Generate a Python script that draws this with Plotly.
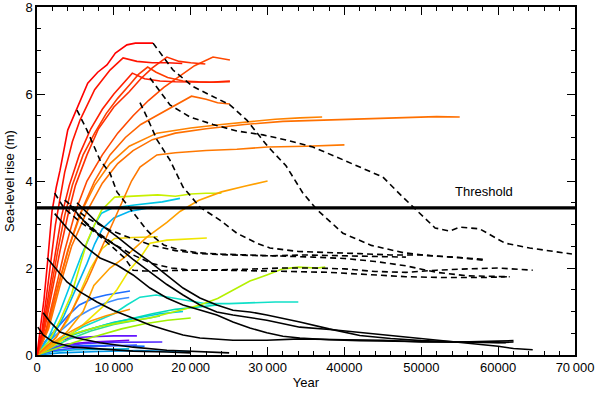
import plotly.graph_objects as go

# ---------------- data (years, metres) ----------------
THRESHOLD = 3.38
X_TICKS = [0, 10000, 20000, 30000, 40000, 50000, 60000, 70000]
X_TICKTEXT = ["0", "10\u2009000", "20\u2009000", "30\u2009000", "40000", "50000", "60000", "70\u2009000"]
Y_TICKS = [0, 2, 4, 6, 8]

# coloured runs (bottom group first, reds last)
P7_x = [0, 1000, 3000, 6000, 9000]
P7_y = [0, 0.10, 0.18, 0.20, 0.20]
P5_x = [0, 3000, 8000, 13000, 18000, 20000]
P5_y = [0, 0.05, 0.08, 0.10, 0.08, 0.08]
P6_x = [0, 2000, 5000, 9000, 12000]
P6_y = [0, 0.08, 0.12, 0.13, 0.14]
P8_x = [0, 1500, 4000, 7000, 10000, 14000]
P8_y = [0, 0.12, 0.20, 0.22, 0.22, 0.20]
P4_x = [0, 2000, 5000, 8000, 11000, 13000]
P4_y = [0, 0.10, 0.16, 0.20, 0.22, 0.23]
P3_x = [0, 1500, 4000, 7000, 10000, 12000]
P3_y = [0, 0.15, 0.25, 0.30, 0.32, 0.34]
P2_x = [0, 1000, 3000, 6000, 9000, 12000, 14500, 16300]
P2_y = [0, 0.12, 0.20, 0.26, 0.29, 0.30, 0.30, 0.30]
P1_x = [0, 800, 2000, 4300, 7000, 10000, 13000]
P1_y = [0, 0.15, 0.28, 0.39, 0.42, 0.44, 0.44]
B2_x = [0, 1200, 3000, 5000, 7000, 9000, 10500, 12000]
B2_y = [0, 0.25, 0.55, 0.85, 1.05, 1.20, 1.28, 1.32]
B1_x = [0, 1000, 2500, 4000, 5500, 7400, 9000, 10500, 12100]
B1_y = [0, 0.30, 0.60, 0.90, 1.15, 1.31, 1.38, 1.43, 1.47]
G4_x = [0, 2000, 4000, 7000, 10000, 13000, 16000, 19000]
G4_y = [0, 0.22, 0.42, 0.60, 0.75, 0.85, 0.95, 1.00]
G1_x = [0, 1500, 3500, 6000, 9000, 12000, 15000, 18000, 21000, 23500]
G1_y = [0, 0.20, 0.40, 0.55, 0.70, 0.82, 0.95, 1.05, 1.10, 1.15]
T1_x = [0, 2000, 4000, 6000, 8000, 10000, 11700, 13400, 15500, 18000, 20000, 22000, 25000, 28000, 31000, 34000]
T1_y = [0, 0.20, 0.45, 0.65, 0.80, 0.95, 1.15, 1.33, 1.38, 1.30, 1.25, 1.18, 1.18, 1.20, 1.22, 1.22]
C2_x = [0, 2000, 3500, 5000, 6500, 7500, 8500, 10000, 12000, 15000]
C2_y = [0, 0.40, 0.90, 1.50, 2.10, 2.55, 2.90, 3.15, 3.30, 3.40]
C1_x = [0, 1500, 3000, 4500, 5800, 6800, 7500, 8400, 9800, 12700, 16300, 18600]
C1_y = [0, 0.40, 1.00, 1.70, 2.30, 2.70, 3.00, 3.26, 3.38, 3.45, 3.52, 3.60]
G2_x = [0, 2000, 4000, 7000, 10000, 13000, 16000]
G2_y = [0, 0.18, 0.35, 0.55, 0.70, 0.80, 0.90]
G3_x = [0, 2500, 5000, 8000, 11000, 14000, 17000, 20000]
G3_y = [0, 0.15, 0.30, 0.45, 0.60, 0.72, 0.80, 0.85]
YG2_x = [0, 2000, 5000, 8000, 11000, 14700, 18000, 21200, 23500, 25500, 27700, 29900, 32000, 34000, 36400, 37500]
YG2_y = [0, 0.25, 0.50, 0.65, 0.75, 0.85, 1.00, 1.15, 1.30, 1.50, 1.70, 1.84, 1.98, 2.02, 2.00, 2.02]
Y1_x = [0, 1500, 3000, 4500, 5500, 6500, 7500, 8400, 10100, 12700, 15700, 18000, 20000, 22000, 24000]
Y1_y = [0, 0.30, 0.80, 1.40, 2.00, 2.60, 3.00, 3.33, 3.63, 3.65, 3.68, 3.65, 3.70, 3.72, 3.72]
Y3_x = [0, 3000, 6000, 8500, 10400, 12000, 13400, 14700, 16900, 19500, 22100]
Y3_y = [0, 0.30, 0.70, 1.10, 1.50, 1.95, 2.23, 2.57, 2.64, 2.67, 2.69]
Y2_x = [0, 2000, 4000, 5500, 7000, 8500, 10100, 12500, 15700]
Y2_y = [0, 0.30, 0.80, 1.40, 2.00, 2.45, 2.68, 2.70, 2.72]
O1_x = [0, 1500, 3000, 5000, 7000, 9000, 10500, 12100]
O1_y = [0, 0.20, 0.40, 0.60, 0.78, 0.90, 0.98, 1.05]
R11_x = [0, 2000, 4000, 6000, 7400, 9500, 11300, 14300, 16900, 18600, 21000, 24000, 27000, 30000]
R11_y = [0, 0.20, 0.55, 1.00, 1.60, 2.00, 2.23, 2.71, 3.05, 3.30, 3.55, 3.75, 3.88, 4.00]
R10_x = [0, 2500, 4500, 6500, 8500, 10000, 11200, 12300, 13400, 15600, 18000, 22000, 26000, 30000, 35000, 40000]
R10_y = [0, 0.40, 1.00, 1.70, 2.50, 3.10, 3.60, 4.00, 4.32, 4.60, 4.65, 4.70, 4.73, 4.78, 4.80, 4.83]
R9_x = [0, 1400, 2800, 4200, 5800, 7500, 9500, 12000, 15600, 20000, 24000, 27700, 31000, 34200, 37100]
R9_y = [0, 0.60, 1.60, 2.50, 3.30, 3.90, 4.40, 4.80, 5.10, 5.22, 5.30, 5.36, 5.42, 5.45, 5.47]
R8_x = [0, 1500, 3000, 4500, 6500, 8500, 10500, 12500, 15000, 18000, 22000, 27000, 32000, 37000, 42000, 47000, 52000, 55000]
R8_y = [0, 0.60, 1.60, 2.50, 3.30, 3.95, 4.40, 4.70, 4.95, 5.10, 5.20, 5.30, 5.37, 5.40, 5.42, 5.45, 5.48, 5.47]
R7_x = [0, 1300, 2600, 4000, 5500, 7500, 9500, 11500, 13500, 15500, 17500, 20100, 22000, 23500, 25100]
R7_y = [0, 0.60, 1.50, 2.40, 3.20, 4.00, 4.60, 5.00, 5.30, 5.50, 5.70, 5.95, 5.88, 5.80, 5.77]
R6_x = [0, 1200, 2400, 3600, 5000, 6500, 8500, 10500, 12500, 14500, 16500, 18500, 20500, 22900, 24000, 25100]
R6_y = [0, 0.60, 1.50, 2.40, 3.30, 4.00, 4.60, 5.10, 5.50, 5.85, 6.15, 6.40, 6.65, 6.85, 6.82, 6.78]
R5_x = [0, 900, 1800, 2700, 3600, 4600, 6000, 7500, 9000, 10500, 12000, 13200, 14400, 15500, 17000, 19000, 21000, 23000, 25100]
R5_y = [0, 0.60, 1.50, 2.40, 3.20, 3.90, 4.60, 5.10, 5.55, 5.90, 6.20, 6.45, 6.62, 6.50, 6.38, 6.30, 6.28, 6.27, 6.28]
R4_x = [0, 1000, 2000, 3000, 4000, 5000, 6500, 8000, 10000, 12000, 13500, 15000, 16900, 18500, 20000, 21900]
R4_y = [0, 0.60, 1.50, 2.40, 3.20, 3.90, 4.60, 5.20, 5.70, 6.05, 6.35, 6.60, 6.85, 6.75, 6.72, 6.69]
R3_x = [0, 800, 1600, 2400, 3200, 4200, 5500, 7000, 8500, 10000, 11200, 12400, 14000, 16000, 18000, 20000, 22500, 25100]
R3_y = [0, 0.60, 1.50, 2.40, 3.20, 3.90, 4.60, 5.20, 5.65, 6.00, 6.25, 6.48, 6.35, 6.30, 6.28, 6.28, 6.27, 6.30]
R2_x = [0, 600, 1200, 1800, 2400, 3000, 3600, 4600, 5600, 7500, 9500, 11200, 13000, 15000, 17000, 18900]
R2_y = [0, 0.50, 1.30, 2.20, 3.00, 3.60, 4.20, 4.90, 5.40, 6.10, 6.55, 6.83, 6.75, 6.72, 6.72, 6.70]
R1_x = [0, 400, 900, 1400, 1950, 2500, 3000, 4000, 5300, 6600, 7900, 9100, 10200, 11700, 12800, 15100]
R1_y = [0, 0.57, 1.26, 2.18, 3.30, 3.85, 4.25, 5.17, 5.70, 6.25, 6.50, 6.67, 6.94, 7.13, 7.17, 7.17]

# black solid runs
K1_x = [2300, 3900, 6000, 8200, 10400, 12500, 14700, 16900, 19000, 21200, 23400, 25500, 27700, 29900, 32000, 34200, 38000, 42000, 46000, 50000, 55000, 60000, 62000]
K1_y = [3.25, 2.92, 2.53, 2.23, 2.07, 1.84, 1.54, 1.31, 1.15, 1.03, 0.92, 0.76, 0.62, 0.51, 0.43, 0.39, 0.35, 0.33, 0.32, 0.30, 0.29, 0.28, 0.30]
K2_x = [4300, 6500, 8200, 10400, 12500, 14700, 16900, 19000, 21200, 23400, 25500, 29900, 34200, 38500, 43000, 47500, 52000, 56000, 60000, 62000, 64500]
K2_y = [3.45, 3.00, 2.75, 2.50, 2.20, 1.92, 1.62, 1.38, 1.15, 0.99, 0.92, 0.80, 0.64, 0.58, 0.50, 0.42, 0.34, 0.28, 0.20, 0.15, 0.12]
K3_x = [5200, 7500, 10400, 12500, 14700, 16900, 19000, 21200, 23400, 25500, 27700, 29900, 32000, 34200, 38000, 42000, 46000, 50000, 55000, 58000, 61000]
K3_y = [3.50, 3.10, 2.72, 2.42, 2.14, 1.84, 1.54, 1.31, 1.15, 1.03, 0.99, 0.92, 0.85, 0.76, 0.60, 0.45, 0.38, 0.33, 0.30, 0.30, 0.28]
K4_x = [1300, 2600, 3900, 5600, 7800, 9900, 12500, 14700, 16900, 19000, 21200, 25500, 29900, 34200, 40000, 45000, 50000, 55000, 60000, 62000]
K4_y = [2.23, 1.95, 1.68, 1.45, 1.22, 1.03, 0.85, 0.69, 0.57, 0.46, 0.39, 0.34, 0.34, 0.37, 0.35, 0.34, 0.30, 0.30, 0.32, 0.33]
K5_x = [800, 1700, 3000, 5200, 8200, 12500, 16900, 21200, 25000]
K5_y = [0.97, 0.76, 0.53, 0.39, 0.28, 0.18, 0.11, 0.07, 0.05]
K6_x = [100, 800, 2100, 4700, 8200, 12500, 16900, 20000]
K6_y = [0.64, 0.46, 0.30, 0.18, 0.14, 0.09, 0.07, 0.05]

# black dashed runs
D1_x = [15100, 17700, 20300, 25100, 27300, 30000, 32400, 34600, 36500, 39800, 43500, 47700, 51200, 55000, 58000]
D1_y = [7.17, 6.55, 6.17, 5.75, 5.40, 4.80, 4.35, 3.72, 3.33, 2.80, 2.52, 2.35, 2.28, 2.24, 2.18]
D2_x = [14700, 17300, 19900, 22900, 26000, 29400, 32500, 35900, 39000, 42000, 45000, 47600, 49800, 51800, 53700, 55000, 57600, 60900, 64100, 68000, 69600]
D2_y = [6.37, 5.75, 5.47, 5.30, 5.15, 5.06, 4.94, 4.78, 4.55, 4.32, 4.09, 3.63, 3.26, 2.92, 2.85, 2.94, 2.90, 2.57, 2.46, 2.37, 2.32]
D3_x = [13400, 14300, 15600, 17300, 19000, 21200, 23800, 26000, 28600, 30300, 34000, 38000, 42000, 46000, 50000, 54000, 58000]
D3_y = [5.80, 5.47, 4.95, 4.48, 3.86, 3.40, 3.10, 2.80, 2.57, 2.46, 2.38, 2.36, 2.33, 2.30, 2.30, 2.25, 2.20]
D4_x = [5200, 6500, 8200, 9500, 10400, 11700, 13000, 14300, 15200, 16500, 18500, 21000, 24000, 28000, 32000, 36000, 40000, 44000, 48000, 52000, 56000, 61500]
D4_y = [5.63, 5.17, 4.48, 4.18, 3.75, 3.45, 3.15, 2.87, 2.71, 2.53, 2.42, 2.35, 2.32, 2.30, 2.28, 2.25, 2.22, 2.15, 2.05, 1.90, 1.82, 1.80]
D5_x = [2300, 3500, 5600, 7500, 9500, 11400, 12500, 14000, 17000, 22000, 27000, 32000, 36000, 40000, 44000, 48000, 52000, 56000, 60000, 64500]
D5_y = [3.72, 3.38, 3.06, 2.83, 2.53, 2.23, 1.95, 1.93, 1.94, 1.95, 1.97, 2.00, 2.00, 1.98, 1.92, 1.90, 1.95, 1.98, 2.00, 1.95]
D6_x = [3600, 5500, 6500, 8200, 9500, 12000, 15000, 18000, 21000, 25000, 30000, 35000, 40000, 45000, 48000]
D6_y = [3.56, 3.29, 3.15, 2.99, 2.87, 2.70, 2.52, 2.40, 2.33, 2.30, 2.28, 2.30, 2.28, 2.25, 2.25]
D7_x = [4300, 6000, 8000, 10000, 12500, 15000, 17500, 20000, 24000, 28000, 33000, 38000, 43000, 48000, 53000, 58000, 61500]
D7_y = [3.40, 3.10, 2.80, 2.55, 2.30, 2.10, 2.00, 1.95, 1.95, 1.93, 1.92, 1.90, 1.85, 1.80, 1.78, 1.78, 1.80]

COLOURED = [
    (P7_x, P7_y, "#8c00dc"), (P5_x, P5_y, "#0096e6"), (P6_x, P6_y, "#00b4dc"),
    (P8_x, P8_y, "#0064ff"), (P4_x, P4_y, "#3250ff"), (P3_x, P3_y, "#7800e6"),
    (P2_x, P2_y, "#5028ff"), (P1_x, P1_y, "#6414ff"), (B2_x, B2_y, "#3c8cff"),
    (B1_x, B1_y, "#1e6eff"), (G4_x, G4_y, "#00c8dc"), (G1_x, G1_y, "#00dcb4"),
    (T1_x, T1_y, "#10e0c8"), (C2_x, C2_y, "#00b4f0"), (C1_x, C1_y, "#00c8e8"),
    (G2_x, G2_y, "#30e08c"), (G3_x, G3_y, "#a0f000"), (YG2_x, YG2_y, "#b4f000"),
    (Y1_x, Y1_y, "#c8f000"), (Y3_x, Y3_y, "#f0e600"), (Y2_x, Y2_y, "#f0d200"),
    (O1_x, O1_y, "#ff9600"), (R11_x, R11_y, "#ffa000"), (R10_x, R10_y, "#ff7800"),
    (R9_x, R9_y, "#ff8200"), (R8_x, R8_y, "#ff7000"), (R7_x, R7_y, "#ff6400"),
    (R6_x, R6_y, "#ff4800"), (R5_x, R5_y, "#ff3c00"), (R4_x, R4_y, "#ff3000"),
    (R3_x, R3_y, "#ff2000"), (R2_x, R2_y, "#ff1400"), (R1_x, R1_y, "#ff0000"),
]
SOLID = [(K1_x, K1_y), (K2_x, K2_y), (K3_x, K3_y), (K4_x, K4_y), (K5_x, K5_y), (K6_x, K6_y)]
DASHED = [(D1_x, D1_y), (D2_x, D2_y), (D3_x, D3_y), (D4_x, D4_y), (D5_x, D5_y), (D6_x, D6_y), (D7_x, D7_y)]

FONT = "Liberation Sans, Arial, Helvetica, sans-serif"

fig = go.Figure()
for xs, ys, c in COLOURED:
    fig.add_trace(go.Scatter(x=xs, y=ys, mode="lines", line=dict(color=c, width=1.6),
                             hoverinfo="skip", showlegend=False))
for xs, ys in SOLID:
    fig.add_trace(go.Scatter(x=xs, y=ys, mode="lines", line=dict(color="black", width=1.6),
                             hoverinfo="skip", showlegend=False))
for xs, ys in DASHED:
    fig.add_trace(go.Scatter(x=xs, y=ys, mode="lines",
                             line=dict(color="black", width=1.6, dash="6px,4px"),
                             hoverinfo="skip", showlegend=False))
fig.add_trace(go.Scatter(x=[X_TICKS[0], X_TICKS[-1]], y=[THRESHOLD, THRESHOLD], mode="lines",
                         line=dict(color="black", width=3.2), hoverinfo="skip", showlegend=False))

fig.add_annotation(x=58200, y=3.77, xref="x", yref="y", text="Threshold", showarrow=False,
                   font=dict(family=FONT, size=13, color="black"))

axis_common = dict(showline=True, linecolor="black", linewidth=1.5, mirror="ticks",
                   ticks="inside", ticklen=8, tickwidth=1.2, tickcolor="black",
                   showgrid=False, zeroline=False, automargin=False, ticklabeloverflow="allow",
                   tickfont=dict(family=FONT, size=13, color="black"))

fig.update_xaxes(range=[0, 70000], tickvals=X_TICKS, ticktext=X_TICKTEXT,
                 minor=dict(dtick=2000, ticklen=4, tickwidth=1.2, tickcolor="black", ticks="inside"),
                 title=dict(text="Year", font=dict(family=FONT, size=13, color="black"), standoff=4),
                 **axis_common)
fig.update_yaxes(range=[0, 8], tickvals=Y_TICKS,
                 minor=dict(dtick=0.5, ticklen=4, tickwidth=1.2, tickcolor="black", ticks="inside"),
                 title=dict(text="Sea-level rise (m)", font=dict(family=FONT, size=13, color="black"), standoff=8),
                 **axis_common)

fig.update_layout(width=600, height=395, margin=dict(l=37, r=25, t=7, b=40, autoexpand=False),
                  paper_bgcolor="white", plot_bgcolor="white", showlegend=False)

fig.write_html("out.html", config={"displayModeBar": False},
               post_script="document.body.style.margin='0';document.body.style.overflow='hidden';")
